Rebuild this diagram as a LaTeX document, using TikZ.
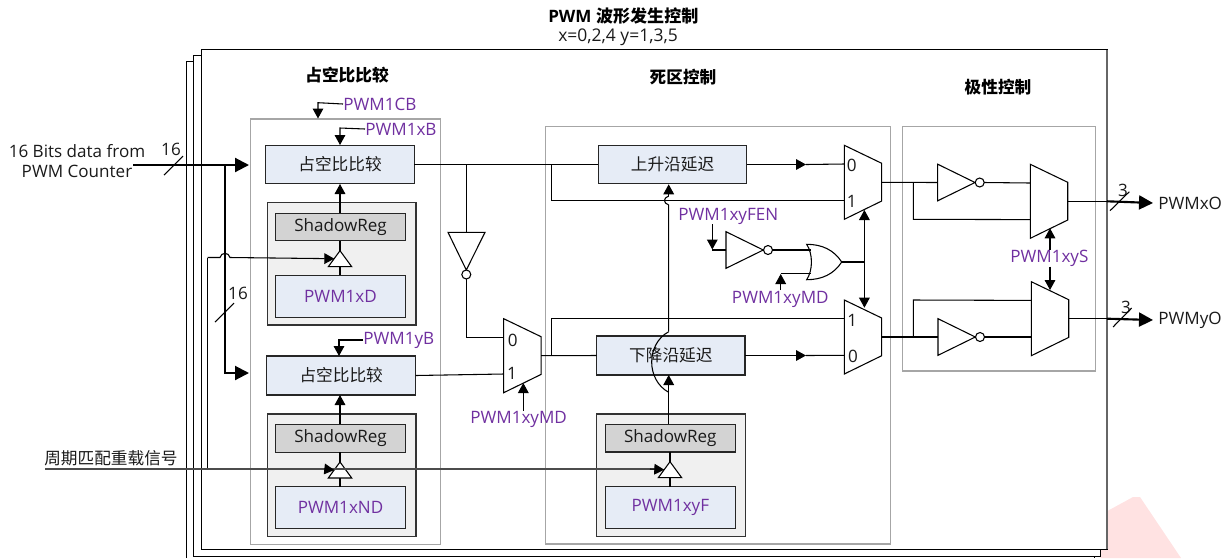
\documentclass[tikz,border=0pt]{standalone}
\usepackage{fontspec}
\setmainfont{Open Sans}
\newfontfamily\cjk{Noto Sans CJK SC}
\usetikzlibrary{arrows.meta,shapes.geometric}
\definecolor{boxblue}{HTML}{E6ECF6}
\definecolor{groupgray}{HTML}{F0F0F0}
\definecolor{reggray}{HTML}{D3D3D3}
\definecolor{panelgray}{HTML}{A6A6A6}
\definecolor{regpurple}{HTML}{7030A0}
\definecolor{wmark}{HTML}{FFE2E2}
\definecolor{txt}{HTML}{1A1A1A}
\newcommand\lat{\fontsize{12.8}{15}\selectfont}
\newcommand\han{\cjk\fontsize{12.5}{15}\selectfont}
\tikzset{
  wire/.style={line width=0.8pt,black},
  buswire/.style={line width=1.6pt,black},
  sarrow/.style={-{Triangle[length=7.5pt,width=8pt]}},
  darrow/.style={{Triangle[length=7.5pt,width=8pt]}-{Triangle[length=7.5pt,width=8pt]}},
  barrow/.style={-{Triangle[length=10.5pt,width=10.5pt]}},
  frame/.style={draw=black,line width=0.75pt,fill=white,inner sep=0,outer sep=0},
  panel/.style={draw=panelgray,line width=0.8pt,fill=white,inner sep=0,outer sep=0},
  group/.style={draw=black!80,line width=0.9pt,fill=groupgray,inner sep=0,outer sep=0},
  bluebox/.style={draw=black!85,line width=0.8pt,fill=boxblue,inner sep=0,outer sep=0,text=txt},
  grayreg/.style={draw=black!85,line width=0.8pt,fill=reggray,inner sep=0,outer sep=0,text=txt},
  regtext/.style={text=regpurple,font=\lat,inner sep=0},
  plain/.style={text=txt,font=\lat,inner sep=0},
  cjktext/.style={text=txt,font=\han,inner sep=0},
  heading/.style={text=black,font=\cjk\bfseries\fontsize{12.5}{15}\selectfont,inner sep=0},
  gate/.style={draw=black,line width=0.8pt,fill=white},
}
% name, x1, y1, x2, y2, style, text
\newcommand\bx[7]{\node[#6,minimum width={(#4-#2)*0.75pt},minimum height={(#5-#3)*0.75pt}] (#1) at ({(#2+#4)/2},{(#3+#5)/2}) {#7};}
% mux: name, x, ytop (left top corner)
\newcommand\muxg[3]{%
  \draw[gate] (#2,#3) -- ({#2+37.4},{#3+18}) -- ({#2+37.4},{#3+55.7}) -- (#2,{#3+74}) -- cycle;
  \coordinate (#1-a) at (#2,{#3+18.7});
  \coordinate (#1-b) at (#2,{#3+55.3});
  \coordinate (#1-o) at ({#2+37.4},{#3+37});
}
% right-pointing inverter: name, x, ycentre
\newcommand\invr[3]{%
  \draw[gate] (#2,{#3-18.3}) -- ({#2+37.3},#3) -- (#2,{#3+18.3}) -- cycle;
  \draw[gate] ({#2+42},#3) circle (4.5);
  \coordinate (#1-i) at (#2,#3);
  \coordinate (#1-o) at ({#2+46.5},#3);
}
% clock triangle: name, xcentre, yapex
\newcommand\clk[3]{%
  \draw[gate] (#2,#3) -- ({#2+11.7},{#3+16}) -- ({#2-11.7},{#3+16}) -- cycle;
  \coordinate (#1-t) at (#2,#3);
  \coordinate (#1-b) at (#2,{#3+16});
  \coordinate (#1-w) at ({#2-5.7},{#3+8});
}
\begin{document}
\begin{tikzpicture}[x=0.75pt,y=-0.75pt]
\useasboundingbox (0,0) rectangle (1230,558);
% watermark
\fill[wmark] (1100,515) -- (1133,497) -- (1140,497) -- (1181,558) -- (1100,558) -- cycle;
% stacked frames
\draw[black,line width=0.75pt] (186.3,558) -- (186.3,61.7) -- (1094,61.7) -- (1094,558);
\bx{frameb}{193.5}{55.7}{1100}{556}{frame}{}
\bx{framea}{201}{49.5}{1107}{549}{frame}{}
\draw[black!60,line width=1pt] (1107,49.5) -- (1107,549);
% panels
\bx{pduty}{250.7}{119}{440.7}{544.3}{panel}{}
\bx{pdead}{545.7}{126.5}{890.7}{544}{panel}{}
\bx{ppol}{902.3}{126.5}{1095.3}{371}{panel}{}
% headings
\node[font=\bfseries\lat,inner sep=0,anchor=west] (ttl) at (548,16) {PWM {\cjk 波形发生控制}};
\node[text=txt,font=\fontsize{13.1}{15}\selectfont,inner sep=0,anchor=west] (sub) at (558,37) {x=0,2,4 y=1,3,5};
\node[heading] (hduty) at (347,75) {占空比比较};
\node[heading] (hdead) at (683,77) {死区控制};
\node[heading] (hpol) at (998,87) {极性控制};
% left group boxes
\bx{cmpa}{265.7}{145.3}{414.3}{183.7}{bluebox}{\han 占空比比较}
\bx{ga}{267.7}{202.7}{416}{325}{group}{}
\bx{sa}{275.3}{213.3}{405.7}{240.7}{grayreg}{\lat ShadowReg}
\bx{da}{275.3}{275.3}{405.7}{317.3}{bluebox}{\color{regpurple}\lat PWM1xD}
\bx{cmpb}{266.7}{356}{415.7}{395}{bluebox}{\han 占空比比较}
\bx{gb}{267.7}{414}{416}{536.7}{group}{}
\bx{sb}{275.3}{424.3}{405.7}{452.3}{grayreg}{\lat ShadowReg}
\bx{db}{275.3}{486.7}{405.7}{528.3}{bluebox}{\color{regpurple}\lat PWM1xND}
% dead-band boxes
\bx{dup}{598.3}{145.3}{746.7}{183.7}{bluebox}{\han 上升沿延迟}
\bx{ddn}{596.7}{336}{745}{375}{bluebox}{\han 下降沿延迟}
\bx{gc}{596.7}{414}{745.7}{536.7}{group}{}
\bx{sc}{605.3}{424.3}{735.3}{452}{grayreg}{\lat ShadowReg}
\bx{dc}{605.3}{486.7}{735.3}{528.3}{bluebox}{\color{regpurple}\lat PWM1xyF}
% clock triangles
\clk{ca}{340}{250.7}
\clk{cb}{340}{462}
\clk{cc}{670}{461.7}
% muxes
\muxg{mm}{503.7}{318.7}
\muxg{mt}{844.3}{145.3}
\muxg{mn}{844.3}{300}
\muxg{ot}{1030.3}{164.3}
\muxg{on}{1031.3}{281.7}
% inverters
\invr{ia}{937.7}{182.5}
\invr{ib}{938}{337}
\invr{ic}{726}{250}
% vertical inverter
\draw[gate] (448,232.3) -- (485,232.3) -- (466.3,270) -- cycle;
\draw[gate] (466.3,274.5) circle (4.5);
\coordinate (iv-i) at (466.3,232.3);
\coordinate (iv-o) at (466.3,279);
% OR gate
\draw[gate] (806.7,244.3) .. controls (822,244.3) and (834,250) .. (841.7,262)
  .. controls (834,274) and (822,279.7) .. (806.7,279.7)
  .. controls (813,270) and (813,254) .. (806.7,244.3) -- cycle;
\coordinate (or-o) at (841.7,262);
\coordinate (or-a) at (811,250);
\coordinate (or-b) at (811,273.7);
% mux digits
\node[plain] (d0a) at (851.7,165.7) {0};
\node[plain] (d1a) at (851.7,201.7) {1};
\node[plain] (d1b) at (852.3,320) {1};
\node[plain] (d0b) at (853,356) {0};
\node[plain] (d0c) at (512.7,340) {0};
\node[plain] (d1c) at (512,373) {1};
% register labels
\node[regtext,anchor=west] (lcb) at (343,104) {PWM1CB};
\node[regtext,anchor=west] (lxb) at (365,129) {PWM1xB};
\node[regtext,anchor=west] (lyb) at (363,340) {PWM1yB};
\node[regtext,anchor=west] (lfen) at (678,216) {PWM1xyFEN};
\node[regtext,anchor=west] (lmda) at (731.7,299) {PWM1xyMD};
\node[regtext,anchor=west] (lmdb) at (470,419) {PWM1xyMD};
\node[regtext,anchor=west] (ls) at (1010,258) {PWM1xyS};
% outer text
\node[plain,align=center,anchor=center] (lin) at (77,161) {16 Bits data from\\PWM Counter};
\node[cjktext,anchor=west] (lrel) at (44,458) {周期匹配重载信号};
\node[plain,anchor=west] (oxo) at (1158,203) {PWMxO};
\node[plain,anchor=west] (oyo) at (1158,320) {PWMyO};
\node[plain] (n16a) at (171,149) {16};
\node[plain] (n16b) at (238,293) {16};
\node[plain] (n3a) at (1123,190) {3};
\node[plain] (n3b) at (1126,307) {3};
% coordinates
\coordinate (inp) at (133,165);
\coordinate (inb) at (225,165);
\coordinate (inta) at (249,165);
\coordinate (intb) at (249,373);
\coordinate (clkx) at (207.5,257.5);
\coordinate (relst) at (45,469);
% bus input
\draw[buswire,barrow] (inp) -- (inta);
\draw[buswire,barrow] (inb) -- (225,373) -- (intb);
\draw[wire] (164,175) -- (183,156);
\draw[wire] (215,322) -- (234,303);
% clock lines
\draw[wire,sarrow] (clkx) -- (220,257.5) .. controls (221,252) and (229,252) .. (230,257.5) -- (ca-w);
\draw[wire] (clkx) -- (207.5,469);
\draw[wire,black!70,line width=1pt] (relst) -- (655,469);
\draw[wire,sarrow] (325,469) -- (cb-w);
\draw[wire,sarrow] (650,469) -- (cc-w);
% reg connectors
\foreach \s/\c/\d in {sa/ca/da,sb/cb/db,sc/cc/dc}{
  \draw[wire] (\s.south -| \c-t) -- (\c-t);
  \draw[wire] (\c-b) -- (\c-b |- \d.north);
}
\draw[wire,sarrow] (340,213.3) -- (340,184);
\draw[wire,sarrow] (340,424.3) -- (340,395);
\draw[wire,sarrow] (lcb.west) -- (318,102.7) -- (318,118.5);
\draw[wire,sarrow] (lxb.west) -- (340,128) -- (340,145);
\draw[wire,sarrow] (lyb.west) -- (339,340) -- (339,356);
% duty -> dead band
\draw[wire] (cmpa.east) -- (dup.west);
\draw[wire] (466.3,164.5) -- (iv-i);
\draw[wire] (iv-o) -- (466.3,337.4) -- (mm-a);
\draw[wire] (551.7,164.5) -- (551.7,200.6) -- (mt-b);
\draw[wire] (cmpb.east) -- (mm-b);
\draw[wire] (mm-o) -- (ddn.west);
\draw[wire] (551.3,355.7) -- (551.3,318.7) -- (mn-a);
\draw[wire,sarrow] (dup.east) -- (806,164.5);
\draw[wire] (806,164.5) -- (mt-a);
\draw[wire,sarrow] (ddn.east) -- (806,355.5);
\draw[wire] (806,355.5) -- (mn-b);
% delay load paths
\draw[wire,sarrow] (sc.north -| 668.7,0) -- (668.7,375);
\draw[wire] (668.7,392.3) .. controls (646,380) and (646,344) .. (668.7,331.7);
\draw[wire] (668.7,331.7) -- (668.7,205) .. controls (663,203) and (663,198) .. (668.7,196);
\draw[wire,sarrow] (668.7,196) -- (668.7,184.3);
% FEN and OR
\draw[wire,sarrow] (lfen.south -| 712.3,0) -- (712.3,249.5);
\draw[wire] (712.3,250) -- (ic-i);
\draw[wire] (ic-o) -- (or-a);
\draw[wire,sarrow] (780.7,290) -- (780.7,274);
\draw[wire] (780.7,273.7) -- (or-b);
\draw[wire] (or-o) -- (864.4,262);
\draw[wire,darrow] (864.4,210) -- (864.4,307.7);
\draw[wire,sarrow] (lmdb.north -| 523.3,0) -- (523.3,383);
% polarity
\draw[wire] (mt-o) -- (ia-i);
\draw[wire] (913.3,182.4) -- (913.3,219.3) -- (ot-b);
\draw[wire] (ia-o) -- (ot-a);
\draw[wire] (mn-o) -- (ib-i);
\draw[wire] (913.3,337) -- (913.3,300) -- (on-a);
\draw[wire] (ib-o) -- (on-b);
\draw[wire,sarrow] (ls.north -| 1050,0) -- (1050,228.3);
\draw[wire,sarrow] (ls.south -| 1050,0) -- (1050,290);
% outputs
\draw[wire] (ot-o) -- (1107,201.3);
\draw[buswire,barrow] (1107,201.3) -- (oxo.west -| 1153,0);
\draw[wire] (on-o) -- (1107,318.7);
\draw[buswire,barrow] (1107,318.7) -- (oyo.west -| 1153,0);
\draw[wire] (1110,210.7) -- (1129.3,191.7);
\draw[wire] (1113,327) -- (1131.7,308);
\end{tikzpicture}
\end{document}
